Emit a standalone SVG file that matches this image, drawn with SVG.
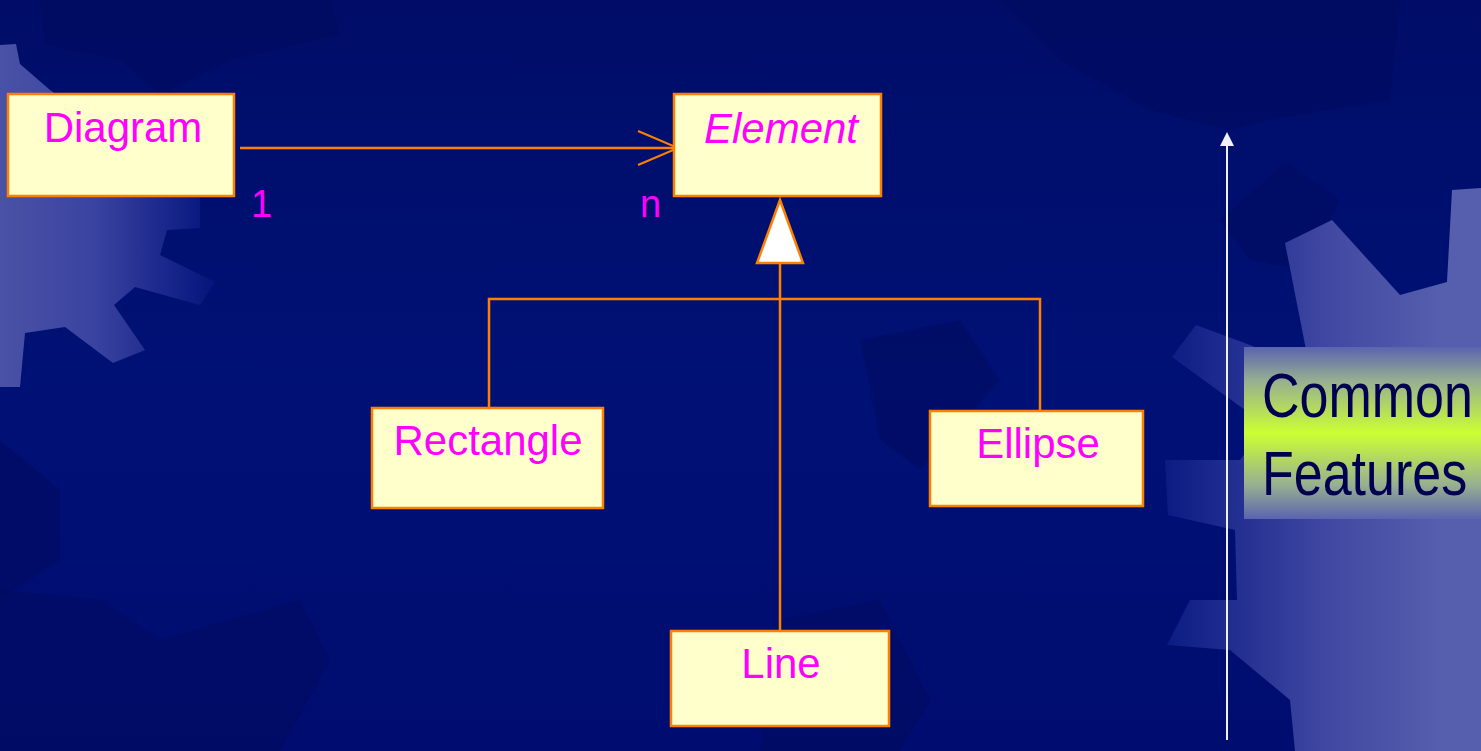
<svg xmlns="http://www.w3.org/2000/svg" width="1481" height="751" viewBox="0 0 1481 751">
<defs>
<linearGradient id="bg" x1="0" y1="0" x2="0" y2="1">
<stop offset="0" stop-color="#000d68"/>
<stop offset="0.5" stop-color="#001175"/>
<stop offset="1" stop-color="#000c70"/>
</linearGradient>
<linearGradient id="gearL" gradientUnits="userSpaceOnUse" x1="0" y1="0" x2="210" y2="0">
<stop offset="0" stop-color="#4a52a6"/>
<stop offset="0.45" stop-color="#3a43a0"/>
<stop offset="1" stop-color="#06167e"/>
</linearGradient>
<linearGradient id="gearR" gradientUnits="userSpaceOnUse" x1="1160" y1="0" x2="1440" y2="0">
<stop offset="0" stop-color="#0a1a82"/>
<stop offset="0.6" stop-color="#4048a2"/>
<stop offset="1" stop-color="#565eae"/>
</linearGradient>
<linearGradient id="cf" x1="0" y1="0" x2="0" y2="1">
<stop offset="0" stop-color="#5a64b0"/>
<stop offset="0.2" stop-color="#98b090"/>
<stop offset="0.5" stop-color="#ccff33"/>
<stop offset="0.8" stop-color="#98b090"/>
<stop offset="1" stop-color="#5a64b0"/>
</linearGradient>
<marker id="open" markerWidth="44" markerHeight="36" refX="41" refY="18" orient="auto" markerUnits="userSpaceOnUse">
<path d="M1,1 L41,18 L1,35" fill="none" stroke="#ff8000" stroke-width="2"/>
</marker>
<marker id="wtip" markerWidth="16" markerHeight="16" refX="13" refY="8" orient="auto" markerUnits="userSpaceOnUse">
<path d="M15,8 L1,1 L1,15 Z" fill="#f0f0f8"/>
</marker>
</defs>
<style>
.box{fill:#ffffcc;stroke:#ff8000;stroke-width:2.5}
.lbl{font-family:"Liberation Sans",Arial,sans-serif;font-size:42px;fill:#ff00ff;text-anchor:middle}
.conn{fill:none;stroke:#ff8000;stroke-width:2.5}
.mult{font-family:"Liberation Sans",Arial,sans-serif;font-size:38px;fill:#ff00ff}
.dark{fill:#000a5c;opacity:0.45}
.cft{font-family:"Liberation Sans",Arial,sans-serif;font-size:52px;fill:#000050}
</style>
<rect x="0" y="0" width="1481" height="751" fill="url(#bg)"/>
<g id="background">
<polygon class="dark" points="40,0 330,0 340,35 230,60 160,95 120,60 45,45"/>
<polygon class="dark" points="1000,0 1400,0 1390,100 1270,120 1230,130 1150,110 1060,60"/>
<polygon class="dark" points="1285,163 1340,200 1305,270 1250,260 1220,220"/>
<polygon class="dark" points="860,340 960,320 1000,380 920,470 880,440"/>
<polygon class="dark" points="0,440 60,490 60,560 0,600"/>
<polygon class="dark" points="0,590 100,600 160,640 300,600 330,660 280,751 0,751"/>
<polygon class="dark" points="780,620 880,600 930,700 900,751 760,751"/>
<polygon fill="url(#gearL)" points="0,45 16,44 20,64 50,90 158,170 165,190 200,193 200,228 167,230 160,255 215,282 200,305 135,287 114,305 145,350 113,363 65,327 25,333 20,387 0,387"/>
<polygon fill="url(#gearR)" points="1452,190 1481,188 1481,751 1295,751 1290,700 1230,650 1167,645 1190,600 1237,600 1235,530 1168,515 1165,460 1240,460 1270,420 1245,410 1172,357 1196,325 1250,345 1310,370 1285,243 1332,220 1400,295 1447,282"/>
</g>
<g id="connectors">
<line class="conn" x1="240" y1="148" x2="678" y2="148" marker-end="url(#open)"/>
<polyline class="conn" points="489,409 489,299 1040,299 1040,412"/>
<line class="conn" x1="780" y1="263" x2="780" y2="632"/>
<polygon points="780,200 803,263 757,263" fill="#ffffff" stroke="#ff8000" stroke-width="2.5"/>
<line x1="1227" y1="740" x2="1227" y2="134" stroke="#f0f0f8" stroke-width="2" marker-end="url(#wtip)"/>
</g>
<g id="diagram">
<rect class="box" x="8" y="94" width="226" height="102"/>
<text class="lbl" x="123" y="142">Diagram</text>
</g>
<g id="element">
<rect class="box" x="674" y="94" width="207" height="102"/>
<text class="lbl" x="781" y="143" font-style="italic">Element</text>
</g>
<g id="rectangle">
<rect class="box" x="372" y="408" width="231" height="100"/>
<text class="lbl" x="488" y="455">Rectangle</text>
</g>
<g id="ellipse">
<rect class="box" x="930" y="411" width="213" height="95"/>
<text class="lbl" x="1038" y="458">Ellipse</text>
</g>
<g id="line">
<rect class="box" x="671" y="631" width="218" height="95"/>
<text class="lbl" x="781" y="678">Line</text>
</g>
<g id="multiplicities">
<text class="mult" x="251" y="217">1</text>
<text class="mult" x="640" y="217">n</text>
</g>
<g id="common-features">
<rect x="1244" y="347" width="237" height="172" fill="url(#cf)"/>
<text class="cft" transform="scale(1,1.2)" x="1262" y="347.5">Common</text>
<text class="cft" transform="scale(1,1.2)" x="1262" y="412.5">Features</text>
</g>
</svg>
